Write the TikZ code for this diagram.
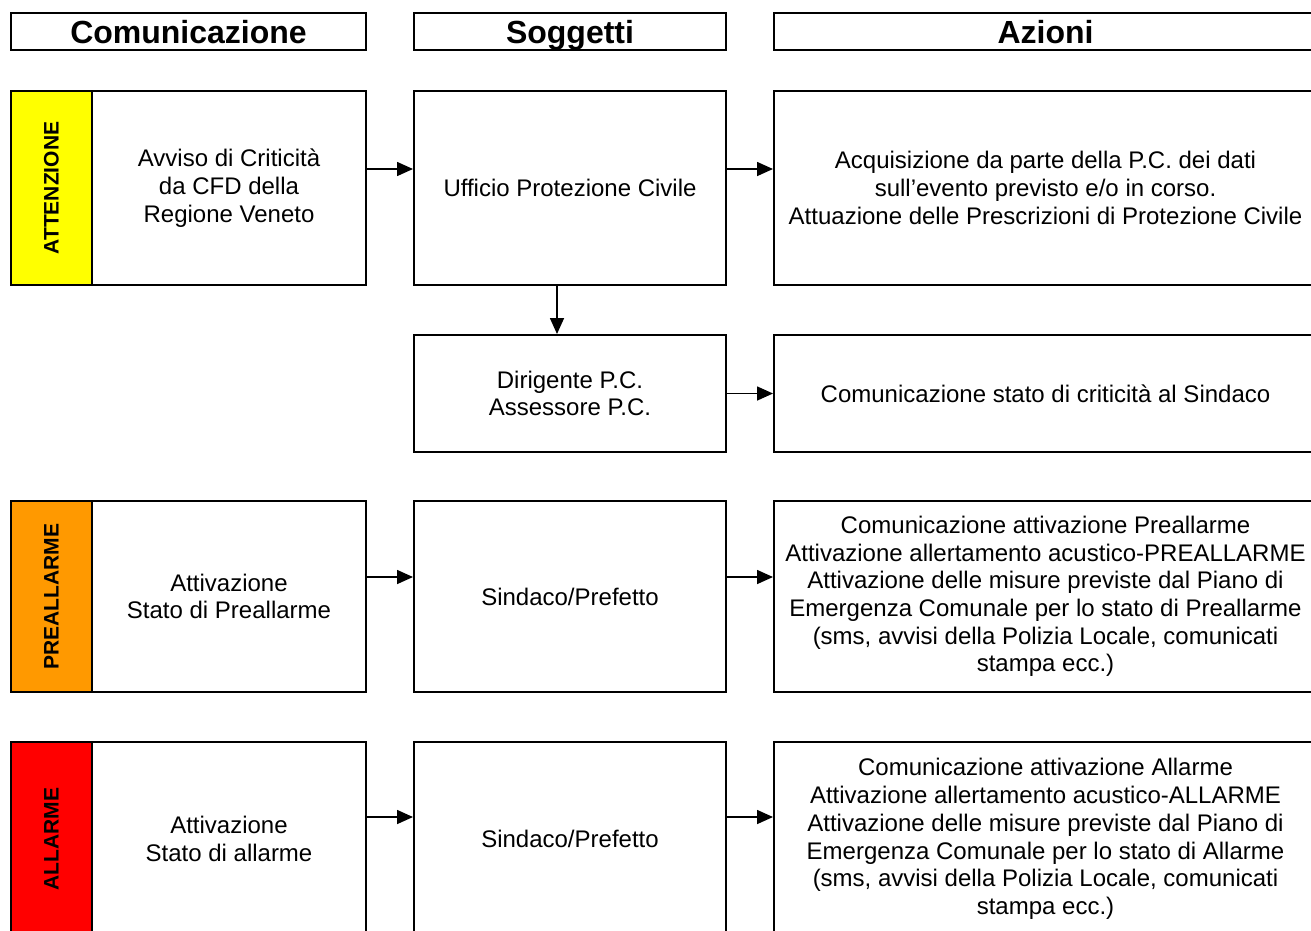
\documentclass[tikz,border=0pt]{standalone}
\usepackage{fontspec}
\setmainfont{Liberation Sans}
\usetikzlibrary{arrows.meta}
\definecolor{giallo}{HTML}{FFFF00}
\definecolor{arancio}{HTML}{FF9900}
\definecolor{rosso}{HTML}{FF0000}
\begin{document}
\begin{tikzpicture}[x=1pt,y=-1pt,
  box/.style={draw=black, line width=2pt, fill=white, inner sep=0pt, align=center,
    font=\fontsize{24}{27.7}\selectfont},
  head/.style={draw=black, line width=2pt, fill=white, inner sep=0pt,
    minimum height=37pt, text height=23pt, text depth=0pt,
    font=\fontsize{32}{36}\selectfont\bfseries},
  strip/.style={draw=black, line width=2pt, inner sep=0pt, minimum width=81pt,
    font=\fontsize{21}{24}\selectfont\bfseries},
  conn/.style={line width=1.6pt, -{Triangle[length=16pt,width=14pt]}}
]
\useasboundingbox (0,0) rectangle (1311,930);
\clip (0,0) rectangle (1311,930);
\fill[white] (0,0) rectangle (1311,930);
% headers
\node[head, minimum width=355pt] (hC) at (188.5,31.5) {Comunicazione};
\node[head, minimum width=312pt] (hS) at (570,31.5) {Soggetti};
\node[head, minimum width=543pt] (hA) at (1045.5,31.5) {Azioni};
% row 1 - attenzione
\node[strip, fill=giallo, minimum height=194pt] (s1) at (51.5,188) {\rotatebox{90}{ATTENZIONE}};
\node[box, minimum width=274pt, minimum height=194pt] (c1) at (229,188) {Avviso di Criticità\\da CFD della\\Regione Veneto};
\node[box, minimum width=312pt, minimum height=194pt] (p1) at (570,188) {Ufficio Protezione Civile};
\node[box, minimum width=543pt, minimum height=194pt] (a1) at (1045.5,188) {Acquisizione da parte della P.C. dei dati\\sull’evento previsto e/o in corso.\\Attuazione delle Prescrizioni di Protezione Civile};
% row 2
\node[box, minimum width=312pt, minimum height=117pt] (p2) at (570,393.5) {Dirigente P.C.\\Assessore P.C.};
\node[box, minimum width=543pt, minimum height=117pt] (a2) at (1045.5,393.5) {Comunicazione stato di criticità al Sindaco};
% row 3 - preallarme
\node[strip, fill=arancio, minimum height=191pt] (s3) at (51.5,596.5) {\rotatebox{90}{PREALLARME}};
\node[box, minimum width=274pt, minimum height=191pt] (c3) at (229,596.5) {Attivazione\\Stato di Preallarme};
\node[box, minimum width=312pt, minimum height=191pt] (p3) at (570,596.5) {Sindaco/Prefetto};
\node[box, minimum width=543pt, minimum height=191pt] (a3) at (1045.5,596.5) {Comunicazione attivazione Preallarme\\Attivazione allertamento acustico-PREALLARME\\Attivazione delle misure previste dal Piano di\\Emergenza Comunale per lo stato di Preallarme\\(sms, avvisi della Polizia Locale, comunicati\\stampa ecc.)};
% row 4 - allarme
\node[strip, fill=rosso, minimum height=194pt] (s4) at (51.5,839) {\rotatebox{90}{ALLARME}};
\node[box, minimum width=274pt, minimum height=194pt] (c4) at (229,839) {Attivazione\\Stato di allarme};
\node[box, minimum width=312pt, minimum height=194pt] (p4) at (570,839) {Sindaco/Prefetto};
\node[box, minimum width=543pt, minimum height=194pt] (a4) at (1045.5,839) {Comunicazione attivazione Allarme\\Attivazione allertamento acustico-ALLARME\\Attivazione delle misure previste dal Piano di\\Emergenza Comunale per lo stato di Allarme\\(sms, avvisi della Polizia Locale, comunicati\\stampa ecc.)};
% connectors
\draw[conn] ([yshift=19pt]c1.east) -- ([yshift=19pt]p1.west);
\draw[conn] ([yshift=19pt]p1.east) -- ([yshift=19pt]a1.west);
\draw[conn] ([xshift=-13pt]p1.south) -- ([xshift=-13pt]p2.north);
\draw[conn] (p2.east) -- (a2.west);
\draw[conn] ([yshift=19.5pt]c3.east) -- ([yshift=19.5pt]p3.west);
\draw[conn] ([yshift=19.5pt]p3.east) -- ([yshift=19.5pt]a3.west);
\draw[conn] ([yshift=22pt]c4.east) -- ([yshift=22pt]p4.west);
\draw[conn] ([yshift=22pt]p4.east) -- ([yshift=22pt]a4.west);
\end{tikzpicture}
\end{document}
